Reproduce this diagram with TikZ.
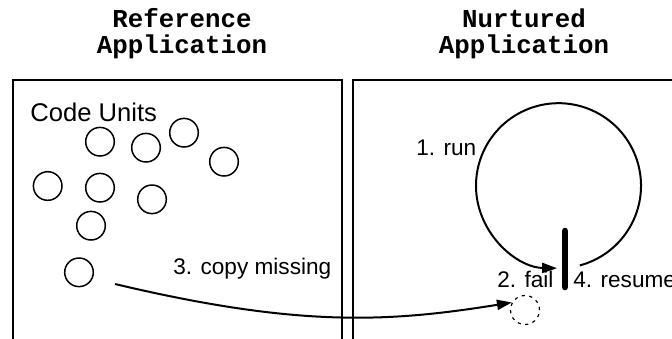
\documentclass[tikz,border=0pt]{standalone}
\usepackage{fontspec}
\setmainfont{Liberation Sans}
\setmonofont{Liberation Mono}
\usetikzlibrary{arrows.meta}

\begin{document}
\begin{tikzpicture}[
    x=0.5pt, y=-0.5pt,
    frame/.style={draw, line width=1.3pt},
    title/.style={font=\ttfamily\bfseries\fontsize{12.9}{13}\selectfont, align=center, anchor=base, inner sep=0},
    lbl/.style={font=\fontsize{11.3}{13}\selectfont, inner sep=0, anchor=base west},
    unit/.style={draw, circle, line width=0.75pt, minimum size=14.3pt, inner sep=0},
    missing/.style={draw, circle, line width=0.6pt, dash pattern=on 1.6pt off 2.2pt, minimum size=14.5pt, inner sep=0},
    arr/.style={-{Triangle[length=7.5pt, width=5pt]}, line width=1pt}
]
\useasboundingbox (0,0) rectangle (672,338);

% the two applications
\draw[frame] (13,80) rectangle (342,420);
\draw[frame] (353,80) rectangle (720,420);
\node[title] (reftitle) at (182,53) {Reference\\Application};
\node[title] (nurtitle) at (524,53) {Nurtured\\Application};

% code units of the reference application
\node[lbl, font=\fontsize{12.8}{14}\selectfont] (units) at (30,121) {Code Units};
\node[unit] (u1) at (100,141.7) {};
\node[unit] (u2) at (146,147.7) {};
\node[unit] (u3) at (184,132.7) {};
\node[unit] (u4) at (224,161.7) {};
\node[unit] (u5) at (47.7,186) {};
\node[unit] (u6) at (100,187.7) {};
\node[unit] (u7) at (152,199.3) {};
\node[unit] (u8) at (91,225.7) {};
\node[unit] (u9) at (79,272.3) {};

% run loop of the nurtured application
\coordinate (loopc) at (558.5,185.7);
\coordinate (bartop) at (565,231);
\coordinate (barbot) at (565,287);
\draw[arr] (loopc) ++(75:82.5) arc[start angle=75, end angle=-269, radius=82.5];
\draw[line width=3.3pt, line cap=round] (bartop) -- (barbot);
\node[lbl] (run) at (416,155) {1. run};
\node[lbl] (fail) at (497,287) {2. fail};
\node[lbl] (resume) at (573,287) {4. resume};

% copying the missing unit
\node[missing] (miss) at (525,310) {};
\coordinate (cpstart) at (115,284);
\node[lbl] (copy) at (173,274) {3. copy missing};
\draw[arr] (cpstart) .. controls (300,328) and (390,322) .. (miss.150);
\end{tikzpicture}
\end{document}
